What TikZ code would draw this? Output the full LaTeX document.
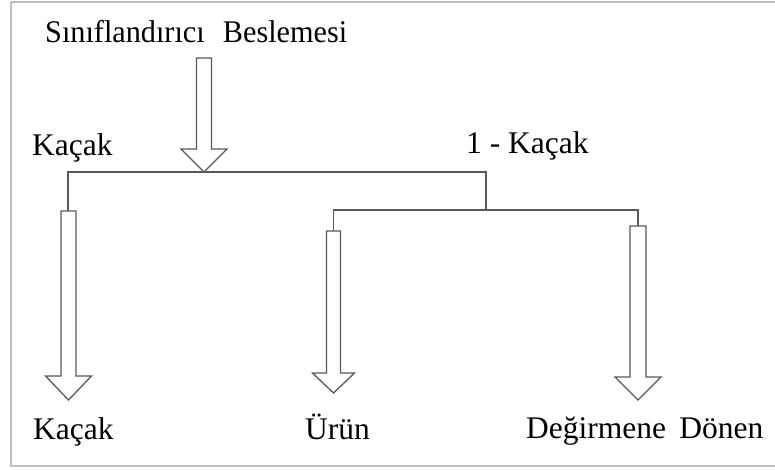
\documentclass[tikz,border=0pt]{standalone}
\usepackage{fontspec}
\setmainfont{Liberation Serif}
\begin{document}
\begin{tikzpicture}[x=1bp,y=-1bp,
  lbl/.style={anchor=base west,inner sep=0pt,font=\fontsize{31.5bp}{36bp}\selectfont,text=black},
  conn/.style={draw=black!65,line width=1.3bp},
  hollow/.style={draw=black!65,line width=1.3bp,fill=white,line join=miter}]
\useasboundingbox (0,0) rectangle (775,470);
\draw[black!25,line width=2.2bp] (11,2) -- (776,2);
\draw[black!25,line width=2.2bp] (11,2) -- (11,466) -- (776,466);
% hollow arrow macro: #1 x, #2 top, #3 head y, #4 tip y, #5 shaft half, #6 head half
\newcommand{\hollowarrow}[6]{%
  \draw[hollow] (#1-#5,#2) -- (#1+#5,#2) -- (#1+#5,#3) -- (#1+#6,#3) -- (#1,#4)
    -- (#1-#6,#3) -- (#1-#5,#3) -- cycle;}
% labels
\node[lbl] (feed) at (45,43) {\scalebox{0.96}[1]{Sınıflandırıcı\hspace{0.6em}Beslemesi}};
\node[lbl] (kleft) at (32,156) {Kaçak};
\node[lbl] (kright) at (466,154) {1 - Kaçak};
\node[lbl] (out1) at (33,439) {Kaçak};
\node[lbl] (out2) at (305,439) {Ürün};
\node[lbl] (out3) at (526,438) {Değirmene\hspace{0.42em}Dönen};
% coordinates
\coordinate (a) at (68,172);
\coordinate (b) at (486,172);
\coordinate (a2) at (68,211);
\coordinate (b2) at (486,210);
\coordinate (c) at (333.5,210);
\coordinate (d) at (638,210);
\coordinate (c2) at (333.5,231);
\coordinate (d2) at (638,226);
% connectors
\draw[conn] (a2) -- (a) -- (b) -- (b2);
\draw[conn] (c2) -- (c) -- (d) -- (d2);
% arrows
\hollowarrow{204}{58}{149}{172}{7.5}{23}
\hollowarrow{68.5}{211}{376}{400}{7.5}{23}
\hollowarrow{333.5}{231}{373}{393}{7}{21}
\hollowarrow{638}{226}{377}{400}{8}{23}
\end{tikzpicture}
\end{document}
